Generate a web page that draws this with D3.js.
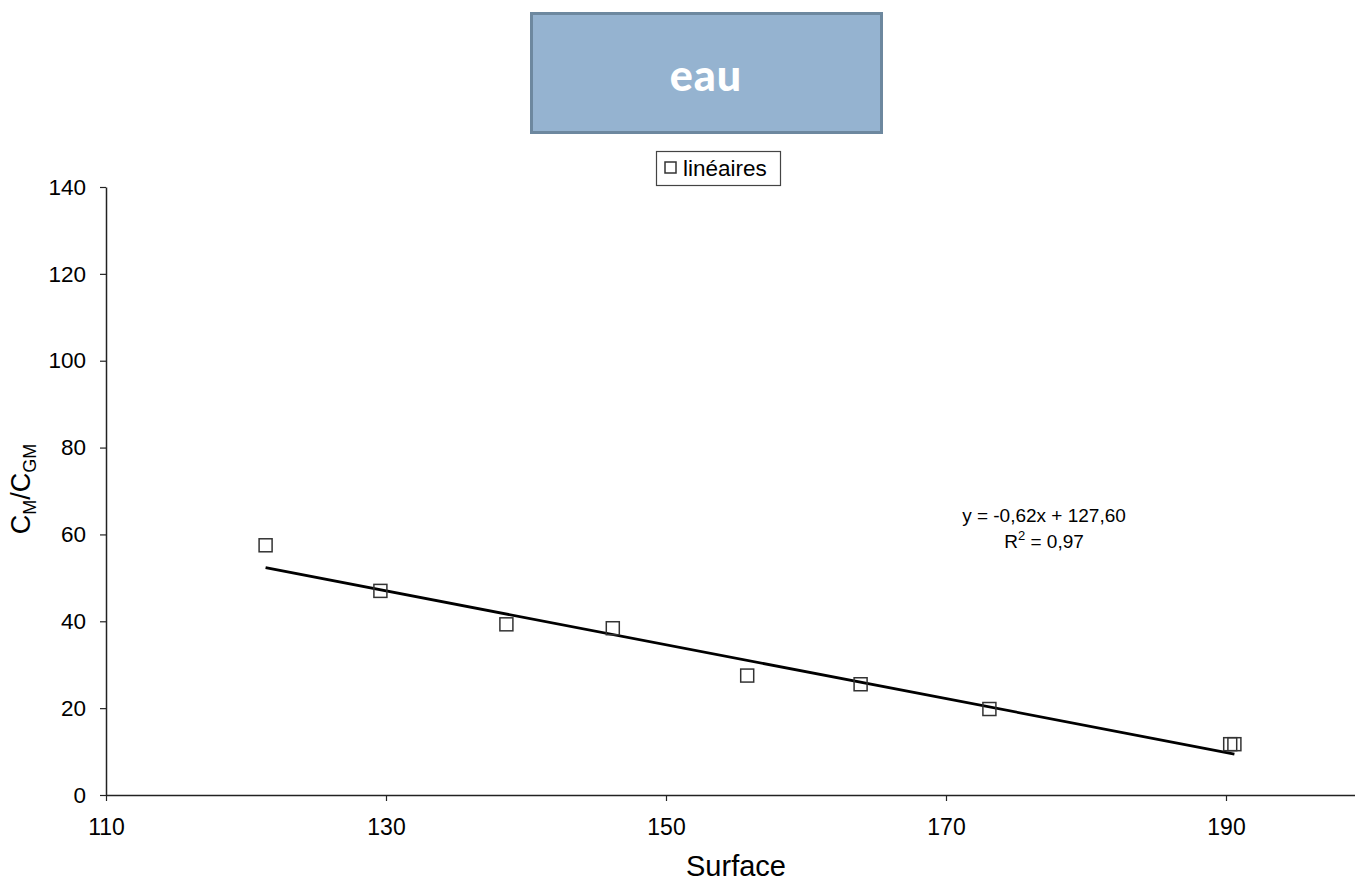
<!DOCTYPE html>
<html><head><meta charset="utf-8">
<script src="https://cdn.jsdelivr.net/npm/d3@7"></script>
<style>body{margin:0;background:#fff;}svg{display:block;}</style>
</head><body>
<script>
const surface = [121.4, 129.6, 138.6, 146.2, 155.8, 163.9, 173.1, 190.3, 190.6];
const ratio   = [57.5, 47.0, 39.3, 38.4, 27.5, 25.5, 19.8, 11.7, 11.7];
const xTicks = [110, 130, 150, 170, 190];
const yTicks = [0, 20, 40, 60, 80, 100, 120, 140];
const slope = -0.62, intercept = 127.60;
const title = "eau";
const legendLabel = "linéaires";
const eqLines = ["y = -0,62x + 127,60", "R2 = 0,97"];

const W = 1355, H = 881;
const svg = d3.select("body").append("svg").attr("width", W).attr("height", H);
const x = d3.scaleLinear().domain([110, 110 + (1355 - 106) / 14]).range([106, 1355]);
const y = d3.scaleLinear().domain([0, 140]).range([795, 187]);
const font = "Liberation Sans, Arial, sans-serif";

// title box
svg.append("rect").attr("x", 531.5).attr("y", 13.5).attr("width", 350).attr("height", 119)
  .attr("fill", "#95b3d0").attr("stroke", "#6d889f").attr("stroke-width", 3);
svg.append("text").attr("x", 706).attr("y", 91).attr("text-anchor", "middle")
  .attr("font-family", "Lato, Open Sans, sans-serif").attr("font-weight", "900").attr("font-size", 43)
  .attr("letter-spacing", 1).attr("fill", "#fff").text(title);

// legend
svg.append("rect").attr("x", 656.5).attr("y", 151.5).attr("width", 124).attr("height", 34)
  .attr("fill", "#fff").attr("stroke", "#444").attr("stroke-width", 1.2);
svg.append("rect").attr("x", 665).attr("y", 162).attr("width", 11).attr("height", 11)
  .attr("fill", "none").attr("stroke", "#333").attr("stroke-width", 1.5);
svg.append("text").attr("x", 683).attr("y", 176).attr("font-family", font).attr("font-size", 22.5)
  .attr("fill", "#000").text(legendLabel);

// axes
const xAxis = svg.append("g").attr("transform", "translate(0,795)")
  .call(d3.axisBottom(x).tickValues(xTicks).tickSize(6).tickSizeOuter(0).tickPadding(18));
xAxis.select(".domain").attr("stroke", "#222").attr("stroke-width", 1.5);
xAxis.selectAll(".tick line").attr("stroke", "#222").attr("stroke-width", 1.2);
xAxis.selectAll("text").attr("font-family", font).attr("font-size", 23).attr("fill", "#000");

const yAxis = svg.append("g").attr("transform", "translate(106,0)")
  .call(d3.axisLeft(y).tickValues(yTicks).tickSize(6).tickSizeOuter(0).tickPadding(14));
yAxis.select(".domain").attr("stroke", "#222").attr("stroke-width", 1.5);
yAxis.selectAll(".tick line").attr("stroke", "#222").attr("stroke-width", 1.2);
yAxis.selectAll("text").attr("font-family", font).attr("font-size", 22.5).attr("fill", "#000");

// axis titles
svg.append("text").attr("x", 736).attr("y", 876).attr("text-anchor", "middle")
  .attr("font-family", font).attr("font-size", 29).attr("fill", "#000").text("Surface");
const yt = svg.append("text").attr("transform", "translate(30,489) rotate(-90)").attr("text-anchor", "middle")
  .attr("font-family", font).attr("font-size", 27).attr("fill", "#000");
yt.append("tspan").text("C");
yt.append("tspan").attr("font-size", 18).attr("dy", 6).text("M");
yt.append("tspan").attr("dy", -6).text("/C");
yt.append("tspan").attr("font-size", 18).attr("dy", 6).text("GM");

// trend line
const xr = d3.extent(surface);
svg.append("line").attr("x1", x(xr[0])).attr("y1", y(slope * xr[0] + intercept))
  .attr("x2", x(xr[1])).attr("y2", y(slope * xr[1] + intercept))
  .attr("stroke", "#000").attr("stroke-width", 2.8);

// points
svg.append("g").selectAll("rect").data(surface).join("rect")
  .attr("x", (d) => x(d) - 6.5).attr("y", (d, i) => y(ratio[i]) - 6.5)
  .attr("width", 13).attr("height", 13)
  .attr("fill", "none").attr("stroke", "#333").attr("stroke-width", 1.5);

// equation
const eq = svg.append("g").attr("font-family", font).attr("font-size", 19).attr("fill", "#000").attr("text-anchor", "middle");
eq.append("text").attr("x", 1044).attr("y", 522).text(eqLines[0]);
const r2 = eq.append("text").attr("x", 1044).attr("y", 548);
r2.append("tspan").text("R");
r2.append("tspan").attr("font-size", 13).attr("dy", -8).text("2");
r2.append("tspan").attr("dy", 8).text(" = 0,97");
</script>
</body></html>
